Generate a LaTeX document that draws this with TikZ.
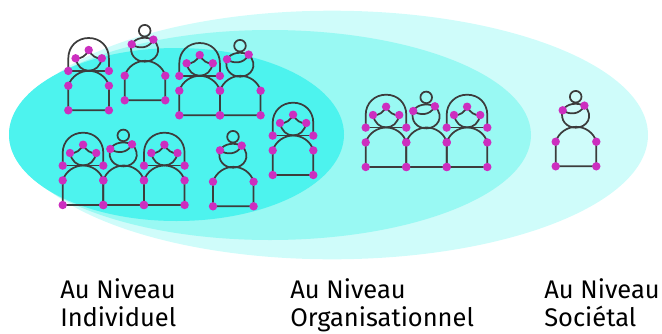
\documentclass[tikz,border=0pt]{standalone}
\usepackage{fontspec}
\setmainfont{Fira Sans}
\definecolor{inner}{HTML}{4DF3EE}
\definecolor{mid}{HTML}{99F9F3}
\definecolor{outer}{HTML}{CFFCFA}
\definecolor{ink}{HTML}{3C3C3C}
\definecolor{dot}{HTML}{CC2EBF}
\tikzset{
  x=0.75pt,y=-0.75pt,
  fig/.style={draw=ink,line width=1.3pt,fill=none},
  lab/.style={anchor=north west,align=left,font=\fontsize{19.1pt}{21.6pt}\selectfont,text=black,inner sep=0pt},
  pics/bodyshape/.style={code={
    \draw[fig] (0,-24.6) .. controls (3,-34) and (12,-39.5) .. (20.4,-39.5) .. controls (29,-39.5) and (38,-34) .. (40.6,-24.6) -- (40.6,0) -- (0,0) -- cycle;
    \foreach \p in {(0,-24.6),(40.6,-24.6),(0,0),(40.6,0)} \fill[dot] \p circle[radius=4.2];
  }},
  pics/hood/.style={code={
    \pic {bodyshape};
    \draw[fig] (0,-39.4) -- (40.6,-39.4);
    \draw[fig] (0,-39.4) -- (0,-52) .. controls (0,-64) and (9,-72.3) .. (20.4,-72.3) .. controls (32,-72.3) and (40.6,-64) .. (40.6,-52) -- (40.6,-39.4);
    \draw[fig] (7.3,-52) .. controls (9,-44) and (14,-39.6) .. (20.4,-39.6) .. controls (27,-39.6) and (32,-44) .. (33.5,-52);
    \draw[fig] (7.3,-52) .. controls (13,-51) and (18,-55) .. (20.4,-60.3) .. controls (23,-55) and (28,-51) .. (33.5,-52);
    \foreach \p in {(0,-39.4),(40.6,-39.4),(7.3,-52),(33.5,-52),(20.4,-60.3)} \fill[dot] \p circle[radius=4.2];
  }},
  pics/bun/.style={code={
    \pic {bodyshape};
    \draw[fig] (7,-56) .. controls (4,-46) and (11,-38.6) .. (20.2,-38.6) .. controls (31,-38.6) and (39,-50) .. (28.7,-60.7);
    \draw[fig] (7,-56) .. controls (11,-63) and (21,-64) .. (28.7,-60.7);
    \draw[fig] (7,-56) .. controls (13,-51.5) and (24,-51) .. (28.7,-60.7);
    \draw[fig] (20,-69.6) circle[radius=5.8];
    \foreach \p in {(7,-56),(28.7,-60.7)} \fill[dot] \p circle[radius=4.2];
  }}
}
\begin{document}
\begin{tikzpicture}
\useasboundingbox (0,0) rectangle (662,333);
\fill[outer] (332,135) ellipse[x radius=316,y radius=124.3];
\fill[mid] (270,135) ellipse[x radius=261,y radius=105];
\fill[inner] (176.5,134.5) ellipse[x radius=167.5,y radius=86.5];
\pic at (68.3,110.3) {hood};
\pic at (124.7,100.3) {bun};
\pic at (179.3,115.3) {hood};
\pic at (220,115.3) {bun};
\pic at (62.7,205) {hood};
\pic at (103.3,205) {bun};
\pic at (144,205) {hood};
\pic at (213,206.3) {bun};
\pic at (272.7,175) {hood};
\pic at (365.7,167) {hood};
\pic at (406.2,167) {bun};
\pic at (446.7,167) {hood};
\pic at (555.7,166.3) {bun};
\node[lab] (l1) at (60,278) {Au Niveau\\Individuel};
\node[lab] (l2) at (290,278) {Au Niveau\\Organisationnel};
\node[lab] (l3) at (544,278) {Au Niveau\\Sociétal};
\end{tikzpicture}
\end{document}
